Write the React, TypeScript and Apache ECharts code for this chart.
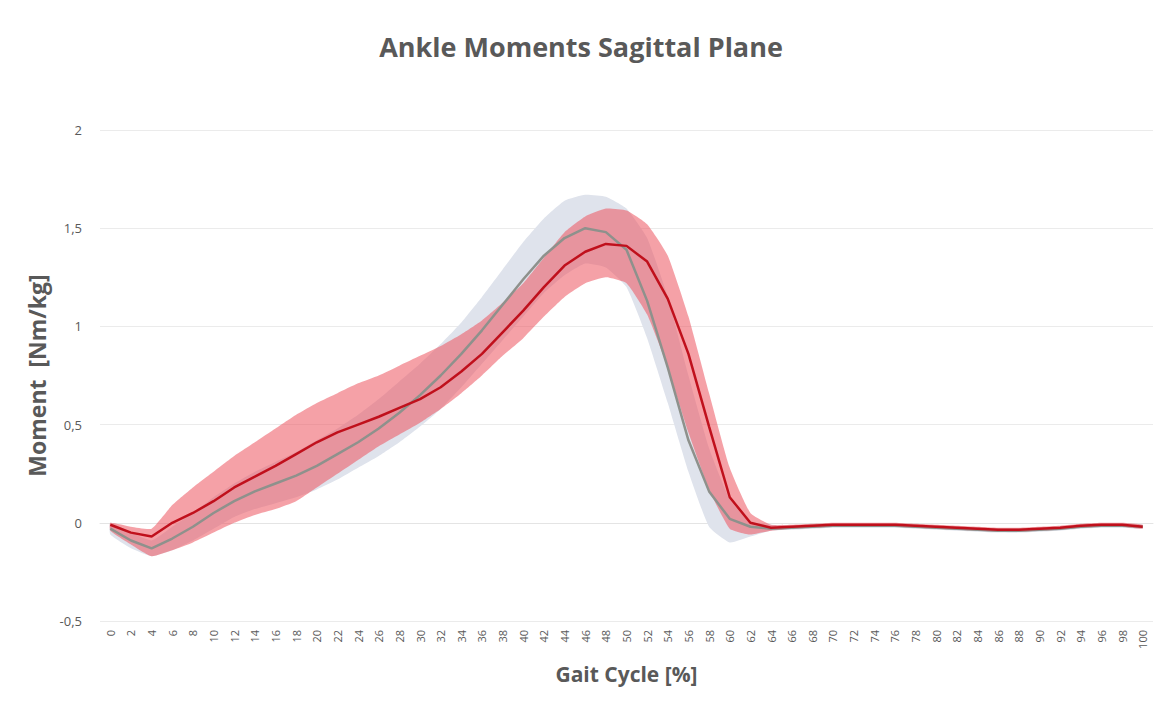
import React, { useEffect, useRef } from "react";
import * as echarts from "echarts";

const categories = ["0","2","4","6","8","10","12","14","16","18","20","22","24","26","28","30","32","34","36","38","40","42","44","46","48","50","52","54","56","58","60","62","64","66","68","70","72","74","76","78","80","82","84","86","88","90","92","94","96","98","100"];

const yTicks = [-0.5, 0, 0.5, 1, 1.5, 2];

const redMean = [-0.01,-0.05,-0.07,0.0,0.05,0.11,0.18,0.235,0.29,0.35,0.41,0.46,0.50,0.54,0.585,0.63,0.69,0.77,0.86,0.97,1.08,1.20,1.31,1.38,1.42,1.41,1.33,1.14,0.86,0.49,0.13,0.0,-0.025,-0.02,-0.015,-0.01,-0.01,-0.01,-0.01,-0.015,-0.02,-0.025,-0.03,-0.035,-0.035,-0.03,-0.025,-0.015,-0.01,-0.01,-0.02];
const redUpper = [0.0,-0.02,-0.03,0.09,0.18,0.26,0.34,0.41,0.48,0.55,0.61,0.66,0.71,0.75,0.80,0.85,0.90,0.96,1.03,1.12,1.22,1.35,1.48,1.56,1.60,1.59,1.52,1.36,1.05,0.66,0.28,0.05,-0.01,-0.01,-0.005,0.0,0.0,0.0,0.0,-0.005,-0.01,-0.015,-0.02,-0.025,-0.025,-0.02,-0.015,-0.005,0.0,0.0,-0.01];
const redLower = [-0.04,-0.11,-0.17,-0.14,-0.10,-0.05,0.0,0.04,0.07,0.11,0.18,0.25,0.32,0.39,0.45,0.51,0.58,0.66,0.75,0.85,0.94,1.05,1.15,1.22,1.25,1.22,1.06,0.79,0.46,0.17,-0.03,-0.06,-0.04,-0.03,-0.025,-0.02,-0.02,-0.02,-0.02,-0.025,-0.03,-0.035,-0.04,-0.045,-0.045,-0.04,-0.035,-0.025,-0.02,-0.02,-0.03];

const greyMean = [-0.03,-0.09,-0.13,-0.08,-0.02,0.05,0.11,0.16,0.20,0.24,0.29,0.35,0.41,0.48,0.56,0.65,0.75,0.86,0.98,1.11,1.24,1.36,1.45,1.50,1.48,1.39,1.13,0.79,0.42,0.16,0.02,-0.02,-0.03,-0.025,-0.02,-0.015,-0.015,-0.015,-0.015,-0.02,-0.025,-0.03,-0.035,-0.04,-0.04,-0.035,-0.03,-0.02,-0.015,-0.015,-0.02];
const greyUpper = [0.0,-0.05,-0.09,-0.02,0.05,0.13,0.20,0.26,0.31,0.36,0.42,0.48,0.55,0.63,0.72,0.81,0.91,1.02,1.15,1.29,1.43,1.55,1.64,1.67,1.66,1.60,1.45,1.15,0.75,0.38,0.12,0.0,-0.01,-0.015,-0.01,-0.005,-0.005,-0.005,-0.005,-0.01,-0.015,-0.02,-0.025,-0.03,-0.03,-0.025,-0.02,-0.01,-0.005,-0.005,-0.01];
const greyLower = [-0.06,-0.13,-0.17,-0.14,-0.09,-0.03,0.03,0.07,0.10,0.13,0.17,0.22,0.28,0.34,0.41,0.49,0.58,0.69,0.81,0.93,1.05,1.17,1.26,1.32,1.30,1.20,0.94,0.61,0.26,-0.02,-0.10,-0.07,-0.04,-0.035,-0.03,-0.025,-0.025,-0.025,-0.025,-0.03,-0.035,-0.04,-0.045,-0.05,-0.05,-0.045,-0.04,-0.03,-0.025,-0.025,-0.03];

const TEXT = "#595959";
const FONT = "'Open Sans', 'Noto Sans', sans-serif";

function bandSeries(name: string, upper: number[], lower: number[], fill: string, z: number) {
  return {
    name,
    type: "custom",
    z,
    silent: true,
    data: upper.map((u, i) => [i, u, lower[i]]),
    encode: { x: 0, y: [1, 2] },
    renderItem: (params: any, api: any) => {
      if (params.dataIndex !== 0) return null;
      const top = upper.map((u, i) => api.coord([i, u]));
      const bottom = lower.map((l, i) => api.coord([i, l])).reverse();
      return {
        type: "polygon",
        shape: { points: top.concat(bottom), smooth: 0.15 },
        style: { fill, stroke: "none" },
      };
    },
  };
}

export default function App() {
  const ref = useRef<HTMLDivElement>(null);
  useEffect(() => {
    if (!ref.current) return;
    const chart = echarts.init(ref.current, undefined, { renderer: "svg" });
    chart.setOption({
      animation: false,
      backgroundColor: "#ffffff",
      title: {
        text: "Ankle Moments Sagittal Plane",
        left: "center",
        top: 28,
        textStyle: { color: TEXT, fontSize: 27, fontWeight: "bold", fontFamily: FONT },
      },
      grid: { left: 100, right: 9, top: 130, bottom: 81, containLabel: false },
      xAxis: {
        type: "category",
        data: categories,
        boundaryGap: true,
        name: "Gait Cycle [%]",
        nameLocation: "middle",
        nameGap: 42,
        nameTextStyle: { color: TEXT, fontSize: 21, fontWeight: "bold", fontFamily: FONT },
        axisLine: { show: true, lineStyle: { color: "#e4e4e4" } },
        axisTick: { show: false },
        axisLabel: { interval: 0, rotate: 90, color: TEXT, fontSize: 11, margin: 9, fontFamily: FONT },
        splitLine: { show: false },
      },
      yAxis: {
        type: "value",
        min: yTicks[0],
        max: yTicks[yTicks.length - 1],
        interval: 0.5,
        name: "Moment  [Nm/kg]",
        nameLocation: "middle",
        nameGap: 44,
        nameTextStyle: { color: TEXT, fontSize: 23, fontWeight: "bold", fontFamily: FONT },
        axisLine: { show: false },
        axisTick: { show: false },
        axisLabel: {
          color: TEXT,
          fontSize: 13,
          margin: 18,
          fontFamily: FONT,
          formatter: (v: number) => String(v).replace(".", ","),
        },
        splitLine: { show: true, lineStyle: { color: "#ebebeb", width: 1 } },
      },
      series: [
        bandSeries("Grey SD", greyUpper, greyLower, "#dfe3ec", 1),
        bandSeries("Red SD", redUpper, redLower, "rgba(236,84,94,0.55)", 2),
        {
          name: "Reference",
          type: "line",
          data: greyMean,
          z: 3,
          symbol: "none",
          lineStyle: { color: "#8e918c", width: 2.5 },
        },
        {
          name: "Patient",
          type: "line",
          data: redMean,
          z: 4,
          symbol: "none",
          lineStyle: { color: "#c0101c", width: 2.5 },
        },
      ],
    });
    return () => chart.dispose();
  }, []);
  return (
    <div
      ref={ref}
      style={{ position: "fixed", left: 0, top: 0, width: 1162, height: 702, background: "#fff" }}
    />
  );
}
